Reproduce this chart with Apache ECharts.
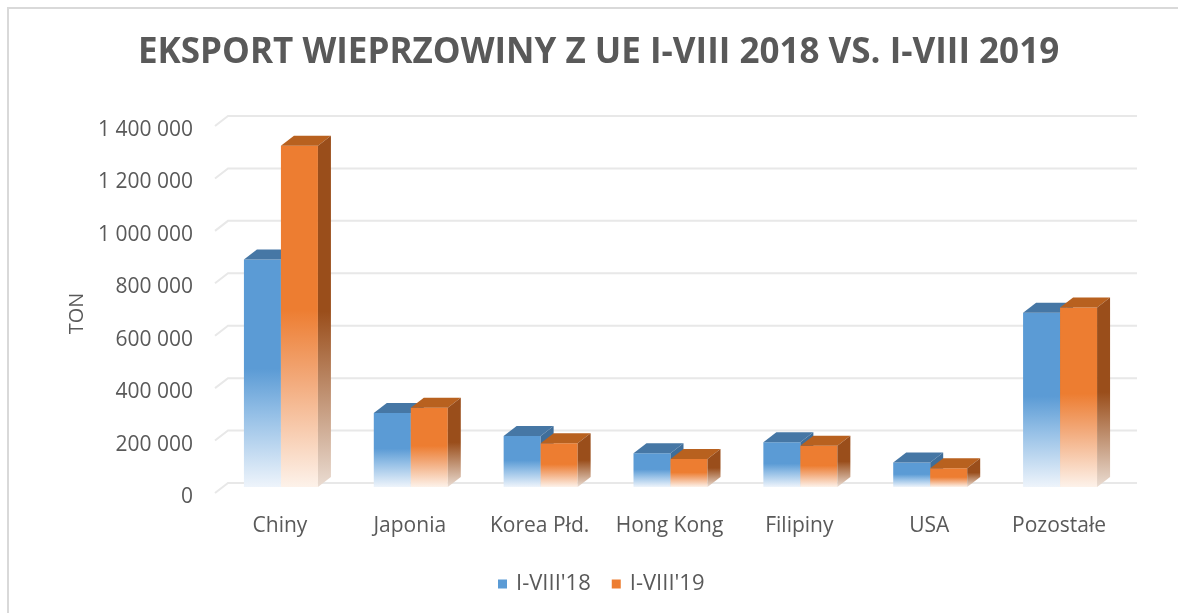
<!DOCTYPE html>
<html>
<head>
<meta charset="utf-8">
<script src="https://cdn.jsdelivr.net/npm/echarts@6/dist/echarts.min.js"></script>
<style>
  html, body { margin: 0; padding: 0; background: #fff; }
  #main { width: 1178px; height: 613px; }
</style>
</head>
<body>
<div id="main"></div>
<script>
let chartData = {
  categories: ['Chiny', 'Japonia', 'Korea Płd.', 'Hong Kong', 'Filipiny', 'USA', 'Pozostałe'],
  series: [
    { name: "I-VIII'18", values: [868000, 282000, 195000, 129000, 171000, 93000, 665000] },
    { name: "I-VIII'19", values: [1302000, 302000, 167000, 107000, 157000, 72000, 685000] }
  ]
}
let ticks = [0, 200000, 400000, 600000, 800000, 1000000, 1200000, 1400000]
const DX = 13
const DY = -10
const BAR_W = 37
const GRID_OFF = -4 // floor lines sit a bit above the label centres
const BAR_OFF = -10 // bars stand a little behind the front plane
const txtClr = '#595959'

let palette = [
  { front: '#5b9bd5', mid: '#94bfe6', low: '#eef4fb', top: '#4677a5', side: '#3f6e9a', sideLow: '#d6e2ee' },
  { front: '#ed7d31', mid: '#f2a878', low: '#fdf2ea', top: '#b8611f', side: '#9a4e1b', sideLow: '#eadcd2' }
]

function vGrad (stops) {
  return new echarts.graphic.LinearGradient(0, 0, 0, 1, stops)
}

function bar3d (idx) {
  return function (params, api) {
    let cat = api.value(0)
    let v = api.value(1)
    let topPt = api.coord([cat, v])
    let basePt = api.coord([cat, 0])
    let c = palette[idx]
    let x0 = (idx === 0 ? topPt[0] - BAR_W : topPt[0]) + 1
    let x1 = x0 + BAR_W
    let yT = topPt[1] + BAR_OFF
    let yB = basePt[1] + BAR_OFF
    return {
      type: 'group',
      children: [
        {
          type: 'rect',
          shape: { x: x0, y: yT, width: BAR_W, height: yB - yT },
          style: {
            fill: vGrad([
              { offset: 0, color: c.front },
              { offset: 0.48, color: c.front },
              { offset: 0.68, color: c.mid },
              { offset: 1, color: c.low }
            ])
          }
        },
        {
          type: 'polygon',
          shape: { points: [[x0, yT], [x0 + DX, yT + DY], [x1 + DX, yT + DY], [x1, yT]] },
          style: { fill: c.top }
        },
        {
          type: 'polygon',
          shape: { points: [[x1, yT], [x1 + DX, yT + DY], [x1 + DX, yB + DY], [x1, yB]] },
          style: {
            fill: vGrad([
              { offset: 0, color: c.side },
              { offset: 0.5, color: c.side },
              { offset: 1, color: c.sideLow }
            ])
          }
        }
      ]
    }
  }
}

function gridLines (params, api) {
  let cs = params.coordSys
  let y = api.coord([0, api.value(1)])[1] + GRID_OFF
  return {
    type: 'polyline',
    shape: { points: [[cs.x, y], [cs.x + DX, y + DY], [cs.x + cs.width + DX, y + DY]] },
    style: { stroke: '#e8e8e8', lineWidth: 2, fill: null }
  }
}

let mychart = echarts.init(document.getElementById('main'))
let myoption = {
  animation: false,
  title: {
    text: 'EKSPORT WIEPRZOWINY Z UE I-VIII 2018 VS. I-VIII 2019',
    left: 133,
    top: 31,
    textStyle: {
      fontFamily: 'Open Sans',
      fontSize: 35,
      fontWeight: 'bold',
      color: txtClr
    }
  },
  graphic: [
    {
      type: 'polyline',
      shape: { points: [[8, 613], [8, 8], [1178, 8]] },
      style: { stroke: '#d9d9d9', lineWidth: 2, fill: null }
    }
  ],
  legend: {
    data: chartData.series.map(s => s.name),
    left: 493,
    top: 568,
    icon: 'rect',
    itemWidth: 9,
    itemHeight: 9,
    itemGap: 21,
    textStyle: { fontFamily: 'Open Sans', fontSize: 22, color: txtClr, padding: [0, 0, 0, 4] }
  },
  grid: { left: 215, right: 54, top: 130, bottom: 116 },
  xAxis: {
    type: 'category',
    data: chartData.categories,
    axisLine: { show: false },
    axisTick: { show: false },
    axisLabel: { interval: 0, margin: 19, fontFamily: 'Open Sans', fontSize: 21, color: txtClr }
  },
  yAxis: {
    type: 'value',
    min: 0,
    max: 1400000,
    interval: 200000,
    name: 'TON',
    nameLocation: 'middle',
    nameGap: 128,
    nameTextStyle: { fontFamily: 'Open Sans', fontSize: 20, color: txtClr },
    axisLine: { show: false },
    axisTick: { show: false },
    splitLine: { show: false },
    axisLabel: {
      margin: 22,
      fontFamily: 'Open Sans',
      fontSize: 21,
      color: txtClr,
      formatter: v => String(v).replace(/\B(?=(\d{3})+(?!\d))/g, ' ')
    }
  },
  series: [
    {
      name: 'grid',
      type: 'custom',
      renderItem: gridLines,
      data: ticks.map(t => [0, t]),
      encode: { x: 0, y: 1 },
      silent: true,
      z: 1
    }
  ].concat(chartData.series.map((s, i) => ({
    name: s.name,
    type: 'custom',
    renderItem: bar3d(i),
    itemStyle: { color: palette[i].front },
    data: s.values.map((v, k) => [k, v]),
    encode: { x: 0, y: 1 },
    z: 2 + i
  })))
}
mychart.setOption(myoption)
</script>
</body>
</html>
